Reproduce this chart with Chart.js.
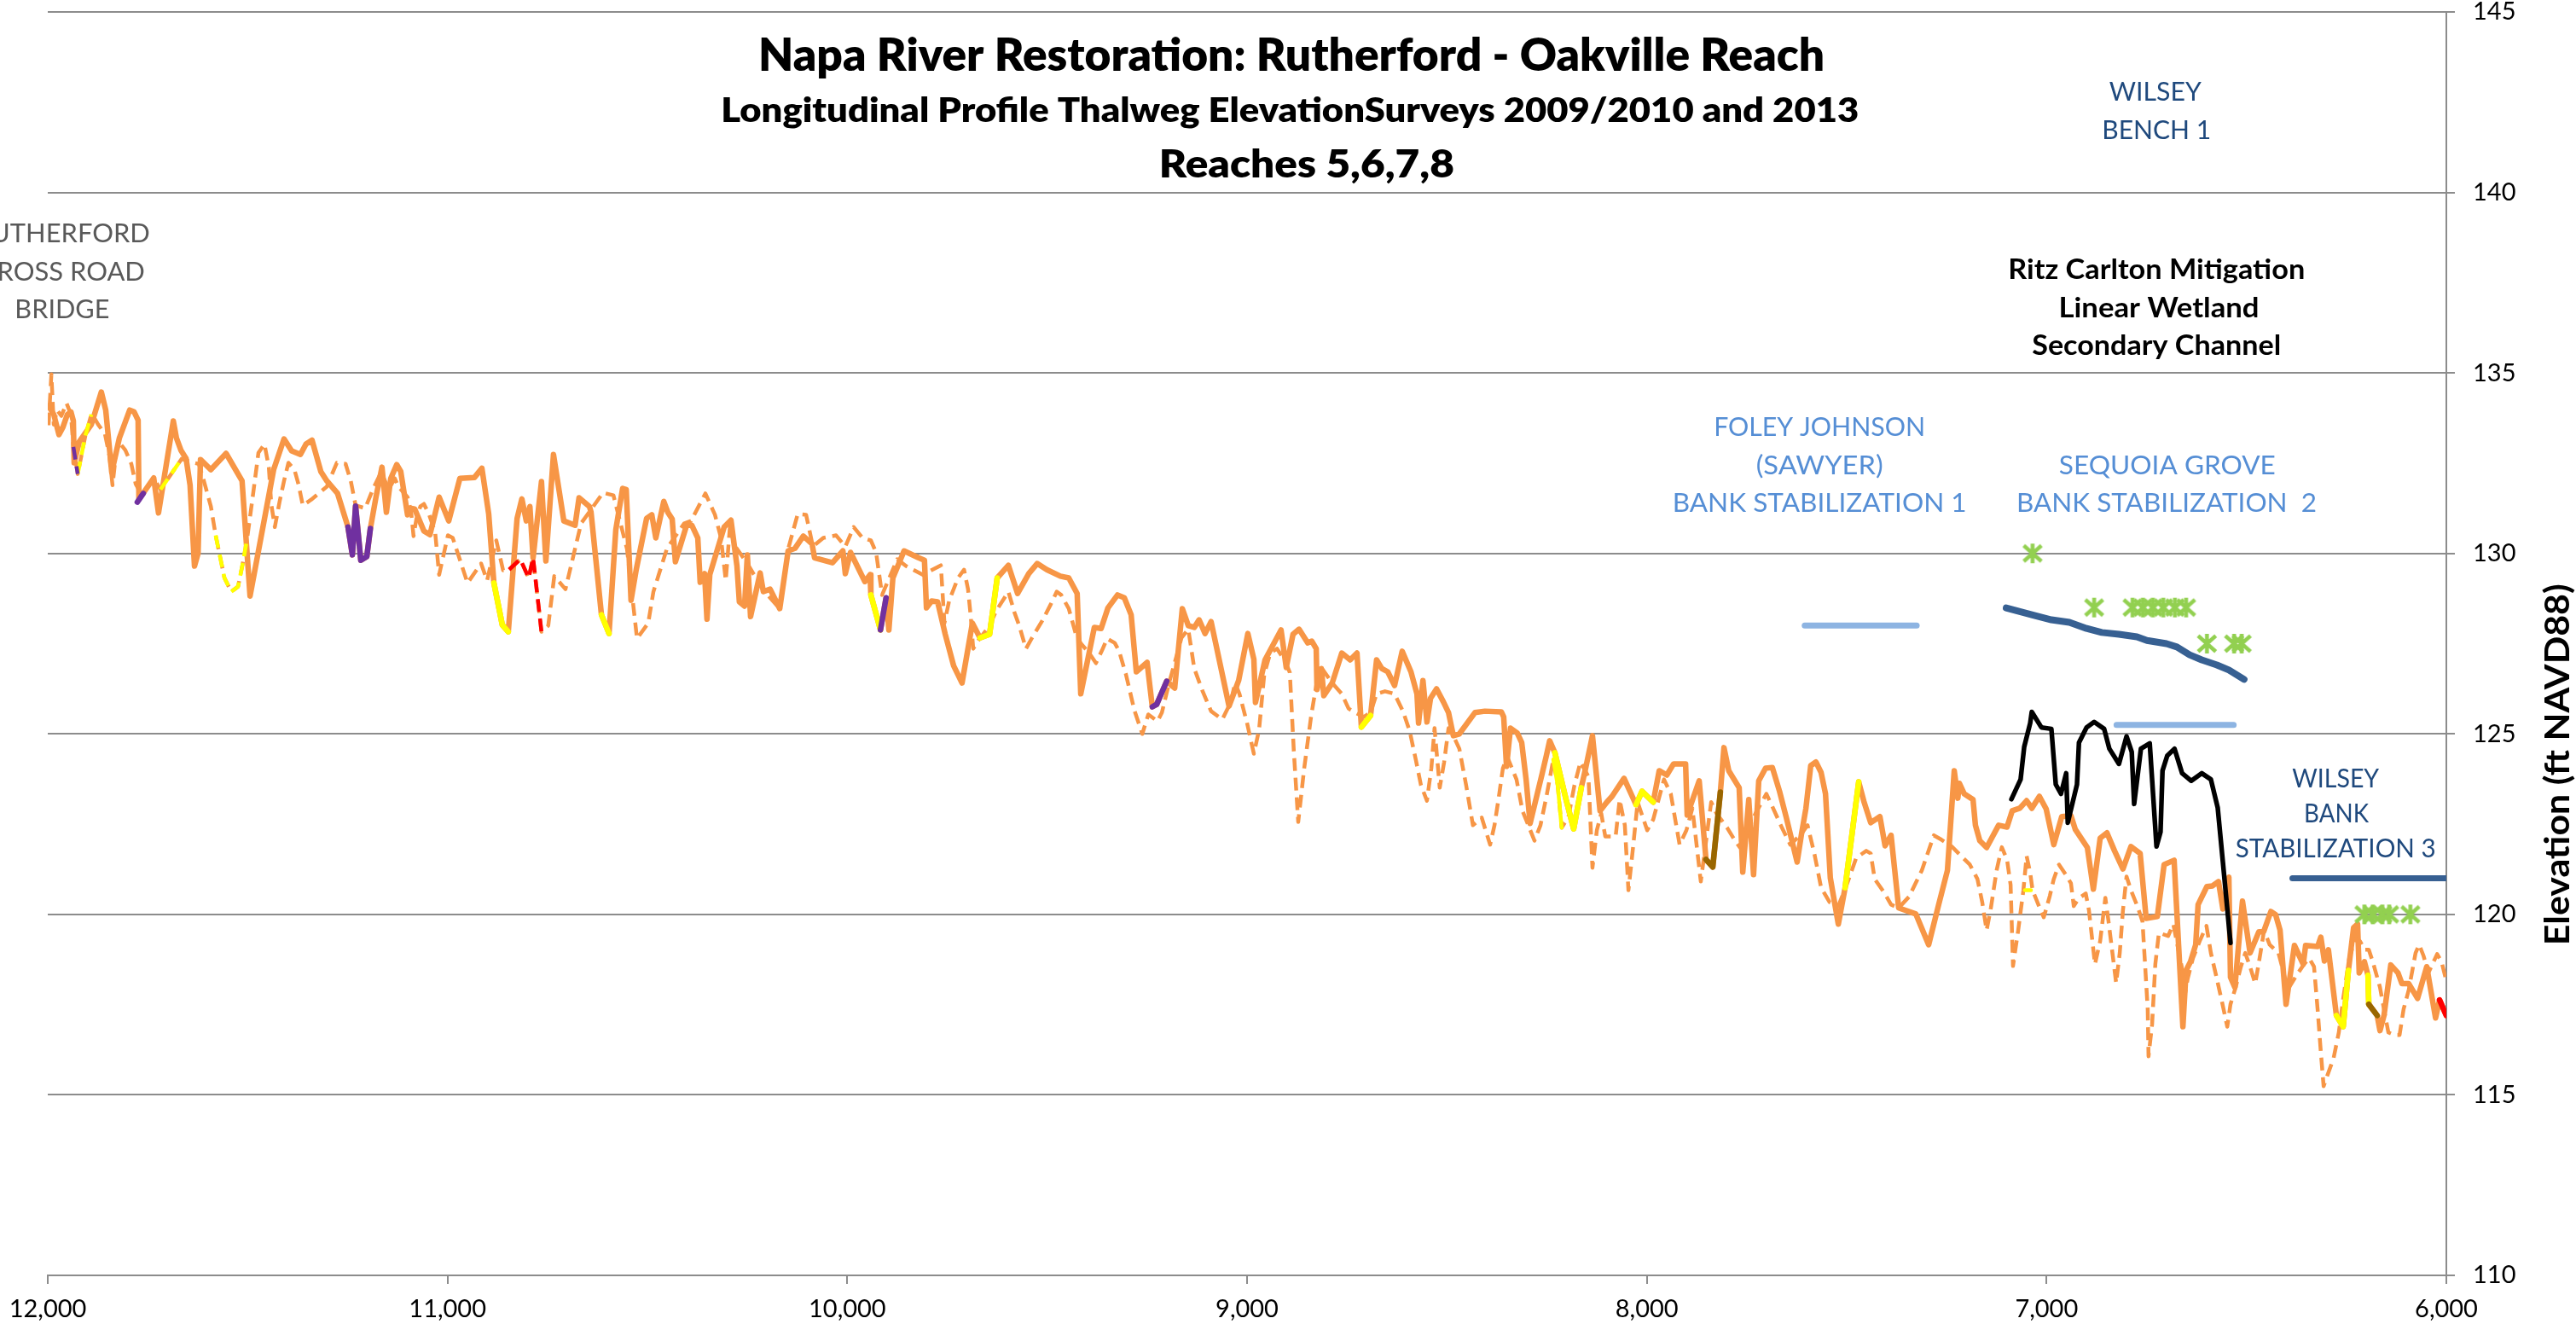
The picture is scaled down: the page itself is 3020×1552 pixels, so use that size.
<!DOCTYPE html>
<html>
<head>
<meta charset="utf-8">
<title>Napa River Restoration: Rutherford - Oakville Reach</title>
<script src="https://cdn.jsdelivr.net/npm/chart.js@4.4.1/dist/chart.umd.min.js"></script>
<style>
  html, body { margin: 0; padding: 0; background: #fff; }
  canvas { display: block; }
</style>
</head>
<body>
<canvas id="profile" width="3020" height="1552"></canvas>
<script>
// station (ft) / thalweg elevation (ft NAVD88) pairs

const survey2013 = [
  [11998,134.09],[11985,133.85],[11972,133.29],[11962,133.50],[11951,133.85],[11942,133.92],[11936,133.67],[11934,132.51],[11921,133.10],[11891,133.57],
  [11866,134.47],[11855,133.97],[11840,132.25],[11821,133.19],[11795,133.97],[11784,133.92],[11774,133.69],[11772,131.50],[11735,132.09],[11723,131.12],
  [11686,133.67],[11678,133.19],[11667,132.86],[11654,132.63],[11644,131.89],[11633,129.65],[11624,130.00],[11618,132.60],[11592,132.32],[11554,132.77],
  [11514,132.01],[11494,128.82],[11435,132.32],[11409,133.17],[11390,132.84],[11368,132.74],[11354,133.03],[11339,133.14],[11317,132.27],[11302,132.01],
  [11275,131.66],[11249,130.73],[11238,129.96],[11230,131.31],[11217,129.81],[11202,129.91],[11193,130.69],[11179,131.56],[11164,132.39],[11153,131.14],
  [11142,132.08],[11127,132.46],[11117,132.27],[11100,131.07],[11091,131.25],[11082,131.23],[11059,130.62],[11044,130.52],[11021,131.56],[10997,130.90],
  [10969,132.08],[10933,132.10],[10914,132.36],[10897,131.09],[10884,129.18],[10863,128.02],[10848,127.83],[10826,130.97],[10814,131.51],[10803,130.90],
  [10794,131.30],[10786,129.88],[10765,131.99],[10754,129.79],[10735,132.74],[10709,130.90],[10681,130.78],[10671,131.54],[10645,131.30],[10641,131.14],
  [10615,128.30],[10596,127.78],[10579,130.66],[10562,131.80],[10553,131.77],[10541,128.70],[10528,129.55],[10502,130.97],[10489,131.07],[10479,130.43],
  [10459,131.44],[10449,131.14],[10438,130.95],[10430,129.77],[10402,130.78],[10389,130.78],[10374,130.43],[10368,129.20],[10357,129.44],[10351,128.18],
  [10344,129.41],[10308,130.73],[10291,130.92],[10276,129.65],[10270,128.66],[10257,128.54],[10250,129.96],[10242,128.25],[10218,129.46],[10210,128.94],
  [10193,129.01],[10169,128.47],[10148,130.07],[10131,130.14],[10110,130.48],[10088,130.26],[10082,129.88],[10037,129.74],[10011,130.07],[10005,129.44],
  [9992,130.03],[9956,129.22],[9943,129.41],[9941,128.85],[9917,127.88],[9903,128.77],[9896,127.88],[9886,129.32],[9858,130.07],[9822,129.88],
  [9807,129.81],[9802,128.49],[9789,128.68],[9774,128.66],[9755,127.76],[9734,126.89],[9713,126.41],[9687,128.07],[9668,127.66],[9644,127.76],
  [9625,129.32],[9597,129.67],[9574,128.89],[9546,129.44],[9525,129.72],[9501,129.55],[9467,129.37],[9446,129.32],[9425,128.89],[9416,126.11],
  [9382,127.95],[9365,127.92],[9348,128.49],[9324,128.85],[9307,128.77],[9290,128.30],[9277,126.72],[9250,126.98],[9237,125.75],[9226,125.82],
  [9201,126.46],[9181,126.27],[9162,128.47],[9147,128.00],[9132,127.95],[9120,128.16],[9105,127.78],[9090,128.11],[9045,125.77],[9021,126.48],
  [8998,127.78],[8983,127.07],[8979,125.87],[8955,127.05],[8915,127.88],[8902,126.84],[8885,127.76],[8870,127.90],[8848,127.52],[8838,127.57],
  [8827,127.36],[8825,126.23],[8814,126.81],[8808,126.06],[8787,126.41],[8763,127.24],[8742,127.05],[8725,127.24],[8714,125.19],[8691,125.51],
  [8676,127.05],[8663,126.81],[8648,126.72],[8631,126.34],[8612,127.29],[8590,126.72],[8575,126.11],[8571,125.30],[8560,126.48],[8550,125.33],
  [8541,125.99],[8526,126.25],[8509,125.89],[8496,125.59],[8484,124.95],[8469,125.00],[8430,125.59],[8405,125.63],[8364,125.61],[8358,125.47],
  [8351,124.10],[8341,125.16],[8324,125.02],[8313,124.76],[8302,123.74],[8292,122.52],[8262,123.89],[8251,124.41],[8243,124.81],[8230,124.48],
  [8202,123.18],[8183,122.37],[8164,123.51],[8153,124.05],[8136,124.95],[8117,122.87],[8100,123.11],[8087,123.27],[8057,123.77],[8027,123.04],
  [8012,123.41],[7984,123.11],[7969,123.98],[7950,123.86],[7933,124.17],[7903,124.17],[7899,122.75],[7869,123.70],[7852,121.52],[7835,121.31],
  [7816,123.39],[7807,124.62],[7795,123.98],[7769,123.51],[7760,121.17],[7745,123.18],[7733,121.10],[7720,123.70],[7703,124.05],[7686,124.07],
  [7668,123.41],[7651,122.68],[7624,121.45],[7613,122.23],[7602,122.94],[7590,124.12],[7577,124.22],[7564,123.93],[7553,123.34],[7541,121.01],
  [7521,119.73],[7504,120.74],[7470,123.67],[7457,123.13],[7440,122.54],[7417,122.71],[7404,121.90],[7389,122.19],[7370,120.18],[7327,120.01],
  [7295,119.16],[7270,120.27],[7248,121.22],[7231,123.98],[7222,123.22],[7218,123.63],[7206,123.34],[7184,123.18],[7178,122.47],[7167,122.04],
  [7150,121.85],[7120,122.47],[7099,122.42],[7086,122.87],[7067,122.94],[7050,123.15],[7037,122.94],[7018,123.27],[7001,122.92],[6982,121.93],
  [6962,122.71],[6939,122.73],[6928,122.35],[6898,121.85],[6883,120.70],[6866,122.11],[6849,122.26],[6830,121.76],[6809,121.26],[6789,121.88],
  [6766,121.69],[6751,119.89],[6723,119.94],[6706,121.38],[6681,121.50],[6659,116.89],[6651,118.45],[6640,118.69],[6627,119.16],[6621,120.27],
  [6599,120.77],[6585,120.79],[6570,120.91],[6559,120.15],[6544,121.03],[6540,118.26],[6529,117.98],[6510,120.37],[6491,118.93],[6469,119.52],
  [6457,119.52],[6439,120.08],[6427,119.99],[6416,119.56],[6401,117.51],[6380,119.14],[6358,118.62],[6352,119.14],[6322,119.11],[6314,119.37],
  [6305,118.71],[6295,119.02],[6275,117.20],[6258,116.89],[6245,118.45],[6232,119.63],[6222,119.73],[6218,118.38],[6205,118.69],[6196,118.31],
  [6194,117.51],[6173,117.20],[6166,116.78],[6156,117.20],[6139,118.60],[6121,118.38],[6111,118.08],[6094,118.08],[6072,117.67],[6049,118.55],
  [6027,117.13],[6017,117.63],[6000,117.20]
];

const survey2009 = [
  [11998,133.55],[11991,134.96],[11985,133.57],[11977,133.97],[11966,133.81],[11953,134.16],[11942,133.85],[11936,132.95],[11925,132.20],[11906,133.26],
  [11891,133.85],[11885,133.78],[11874,133.57],[11857,133.31],[11846,132.72],[11838,131.89],[11829,132.79],[11821,133.07],[11806,132.86],[11791,132.48],
  [11780,131.92],[11767,131.66],[11753,131.80],[11735,132.08],[11718,131.77],[11665,132.62],[11635,132.51],[11622,132.48],[11610,132.03],[11592,131.30],
  [11580,130.50],[11558,129.32],[11541,128.94],[11524,129.08],[11511,129.79],[11501,130.43],[11486,131.68],[11473,132.79],[11458,133.03],[11447,132.39],
  [11441,131.37],[11432,130.73],[11420,131.44],[11409,132.01],[11398,132.51],[11383,132.32],[11373,131.92],[11362,131.33],[11341,131.49],[11302,131.85],
  [11277,132.51],[11255,132.48],[11242,132.01],[11230,131.33],[11206,131.25],[11187,131.77],[11166,132.25],[11147,131.77],[11132,132.08],[11123,131.85],
  [11100,131.56],[11091,131.14],[11085,130.48],[11078,130.95],[11068,131.30],[11059,131.37],[11046,131.07],[11031,130.59],[11021,129.41],[10999,130.50],
  [10987,130.43],[10950,129.18],[10916,129.72],[10901,129.25],[10878,130.36],[10861,129.53],[10846,129.55],[10818,129.84],[10797,129.32],[10786,129.88],
  [10765,127.83],[10748,128.00],[10733,129.37],[10705,129.01],[10666,130.83],[10611,131.68],[10585,131.61],[10551,130.12],[10526,127.64],[10498,128.07],
  [10485,128.94],[10451,130.14],[10408,130.83],[10391,130.90],[10355,131.66],[10331,131.07],[10316,130.43],[10304,129.25],[10293,130.83],[10280,130.19],
  [10250,129.72],[10212,129.01],[10169,128.47],[10148,130.12],[10124,131.09],[10103,131.07],[10086,130.19],[10060,130.43],[10028,130.50],[10005,130.19],
  [9984,130.73],[9962,130.43],[9941,130.36],[9928,130.03],[9913,128.85],[9875,129.84],[9853,129.65],[9811,129.41],[9766,129.67],[9757,128.07],
  [9745,128.70],[9723,129.32],[9708,129.55],[9698,129.01],[9691,128.23],[9685,127.36],[9672,127.59],[9644,128.00],[9627,128.42],[9597,128.94],
  [9582,128.37],[9570,128.00],[9553,127.36],[9538,127.66],[9512,128.14],[9491,128.59],[9476,128.94],[9465,128.85],[9446,128.47],[9427,127.71],
  [9414,127.48],[9395,127.24],[9378,126.96],[9363,127.31],[9350,127.64],[9331,127.52],[9320,127.29],[9303,126.65],[9282,125.66],[9262,125.00],
  [9247,125.54],[9224,125.35],[9213,125.59],[9196,126.37],[9164,127.66],[9147,127.90],[9132,126.81],[9111,126.18],[9090,125.63],[9062,125.40],
  [9041,125.87],[9030,126.41],[9019,126.11],[9000,125.30],[8983,124.45],[8970,125.11],[8957,126.65],[8942,127.24],[8925,127.36],[8904,127.00],
  [8893,126.70],[8883,124.52],[8872,122.56],[8857,124.05],[8840,125.47],[8827,126.34],[8810,126.77],[8787,126.41],[8763,126.11],[8746,125.70],
  [8729,125.59],[8708,125.47],[8691,125.59],[8676,126.11],[8655,126.18],[8631,126.11],[8610,125.63],[8593,125.07],[8578,124.29],[8565,123.58],
  [8550,123.15],[8539,124.05],[8531,125.16],[8518,123.51],[8507,124.22],[8496,125.16],[8484,124.95],[8469,124.59],[8452,123.58],[8435,122.47],
  [8413,122.68],[8392,121.93],[8381,122.47],[8370,123.27],[8360,124.05],[8349,124.36],[8326,123.74],[8311,122.87],[8294,122.40],[8281,122.04],
  [8266,122.47],[8251,123.27],[8234,124.29],[8223,123.58],[8213,122.40],[8196,122.71],[8181,123.58],[8166,124.22],[8146,123.82],[8136,121.29],
  [8125,122.33],[8114,122.80],[8104,122.16],[8078,122.16],[8068,123.18],[8055,122.47],[8046,120.67],[8036,121.69],[8023,123.11],[7999,122.33],
  [7984,122.63],[7957,123.74],[7940,123.34],[7918,121.93],[7901,122.33],[7886,122.94],[7865,120.91],[7839,123.11],[7826,122.80],[7799,122.40],
  [7782,122.09],[7767,121.85],[7728,122.80],[7701,123.34],[7684,122.94],[7662,122.40],[7641,121.93],[7613,122.23],[7598,122.47],[7581,121.69],
  [7564,120.74],[7543,120.34],[7521,120.23],[7500,120.82],[7476,121.57],[7451,121.76],[7440,121.69],[7430,120.98],[7406,120.60],[7389,120.27],
  [7370,120.18],[7344,120.49],[7312,121.22],[7282,122.19],[7263,122.07],[7237,121.88],[7214,121.62],[7192,121.38],[7173,120.98],[7161,120.34],
  [7150,119.56],[7139,120.20],[7125,121.22],[7112,121.86],[7099,121.52],[7090,120.82],[7084,118.57],[7071,119.56],[7058,120.67],[7050,121.62],
  [7041,121.15],[7035,120.67],[7018,120.20],[7007,119.92],[6992,120.51],[6982,120.98],[6969,121.38],[6952,121.10],[6939,120.86],[6932,120.23],
  [6920,120.44],[6902,120.58],[6894,120.11],[6879,118.62],[6866,119.26],[6853,120.46],[6845,119.80],[6826,118.10],[6817,118.93],[6809,120.11],
  [6800,121.05],[6789,120.67],[6772,120.20],[6760,119.80],[6747,117.37],[6745,116.07],[6736,116.96],[6728,118.62],[6719,119.49],[6696,119.40],
  [6683,119.73],[6662,118.55],[6653,117.84],[6647,118.22],[6634,118.78],[6617,119.26],[6600,119.68],[6589,118.93],[6576,118.31],[6563,117.67],
  [6548,116.89],[6540,117.51],[6527,117.98],[6514,118.55],[6503,118.93],[6491,118.55],[6478,118.08],[6465,118.93],[6456,119.56],[6442,119.16],
  [6420,118.93],[6407,118.38],[6397,117.91],[6375,118.31],[6356,118.62],[6343,118.78],[6331,118.55],[6322,117.37],[6314,116.19],[6307,115.24],
  [6295,115.62],[6282,116.02],[6269,116.73],[6258,117.67],[6243,118.78],[6228,119.33],[6216,119.26],[6205,119.02],[6194,119.02],[6184,118.69],
  [6166,117.98],[6156,117.37],[6145,116.73],[6130,116.66],[6117,116.66],[6107,117.37],[6094,117.91],[6077,118.93],[6068,119.16],[6057,118.85],
  [6045,118.38],[6023,118.90],[6012,118.69],[6000,118.15]
];

// highlighted stretches of the two surveys
const yellowRuns = [
  [[10884,129.18],[10863,128.02],[10848,127.83]],
  [[10615,128.30],[10596,127.78]],
  [[9941,128.85],[9917,127.88]],
  [[9668,127.66],[9644,127.76],[9625,129.32]],
  [[8714,125.19],[8691,125.51]],
  [[8230,124.48],[8202,123.18],[8183,122.37],[8164,123.51]],
  [[8027,123.04],[8012,123.41],[7984,123.11]],
  [[7504,120.74],[7470,123.67]],
  [[6275,117.20],[6258,116.89],[6245,118.45]],
  [[6196,118.31],[6194,117.51]]
];
const yellowRuns2009 = [
  [[11925,132.20],[11906,133.26],[11891,133.85]],
  [[11718,131.77],[11665,132.62]],
  [[11580,130.50],[11558,129.32],[11541,128.94],[11524,129.08],[11511,129.79],[11501,130.43]]
];
const yellowThin = [
  [[8234,124.29],[8223,123.58],[8213,122.40]],
  [[7054,120.67],[7039,120.67]]
];
const purpleRuns = [
  [[11776,131.42],[11761,131.66]],
  [[11249,130.73],[11238,129.96],[11230,131.31],[11217,129.81],[11202,129.91],[11193,130.69]],
  [[9917,127.88],[9903,128.77]],
  [[9237,125.75],[9226,125.82],[9201,126.46]]
];
const purpleRuns2009 = [
  [[11936,132.95],[11925,132.20]]
];
const redRuns2009 = [
  [[10846,129.55],[10818,129.84],[10797,129.32],[10786,129.88],[10765,127.83]]
];
const redRuns = [
  [[6017,117.63],[6000,117.20]]
];
const brownRuns = [
  [[7852,121.52],[7835,121.31],[7816,123.39]],
  [[6194,117.51],[6173,117.20]]
];

const ritzChannel = [
  [7088,123.19],[7065,123.74],[7056,124.64],[7041,125.30],[7037,125.61],[7013,125.18],[6988,125.14],[6977,123.60],[6964,123.34],[6951,123.91],
  [6947,122.54],[6924,123.60],[6919,124.76],[6900,125.18],[6881,125.33],[6856,125.14],[6843,124.59],[6819,124.17],[6800,124.93],[6787,124.50],
  [6781,123.06],[6764,124.59],[6742,124.74],[6725,121.88],[6715,122.28],[6710,123.98],[6698,124.40],[6680,124.59],[6661,123.91],[6638,123.70],
  [6612,123.91],[6589,123.74],[6572,122.96],[6559,121.45],[6540,119.21]
];

const wilseyBench = [
  [7101,128.49],[7037,128.30],[6988,128.16],[6943,128.09],[6900,127.92],[6862,127.81],[6819,127.76],[6774,127.69],[6749,127.59],[6700,127.50],
  [6674,127.41],[6642,127.19],[6612,127.05],[6574,126.91],[6544,126.77],[6506,126.51]
];

const foleyJohnson = [[7605,128.0],[7325,128.0]];
const sequoiaGrove = [[6825,125.25],[6532,125.25]];
const wilseyBank3 = [[6385,121.0],[6000,121.0]];

const plantings = [
  [7035,130.0],
  [6881,128.5],[6785,128.5],[6759,128.5],[6734,128.5],[6708,128.5],[6679,128.5],[6651,128.5],
  [6599,127.5],[6531,127.5],[6512,127.5],
  [6205,120.0],[6184,120.0],[6160,120.0],[6143,120.0],[6090,120.0]
];

const stationTicks = { min: 6000, max: 12000, step: 1000 };
const elevationTicks = { min: 110, max: 145, step: 5 };

// text placed on the plot (x = station, y = baseline elevation)
const notes = [
  { text: 'Napa River Restoration: Rutherford - Oakville Reach', x: 8889, y: 143.37, size: 53, weight: 800, color: '#000', width: 1250 },
  { text: 'Longitudinal Profile Thalweg ElevationSurveys 2009/2010 and 2013', x: 8893, y: 141.95, size: 40, weight: 800, color: '#000', width: 1334 },
  { text: 'Reaches 5,6,7,8', x: 8851, y: 140.42, size: 45, weight: 800, color: '#000', width: 346 },
  { text: 'RUTHERFORD', x: 11964, y: 138.62, size: 30, color: '#595959', width: 206 },
  { text: 'CROSS ROAD', x: 11964, y: 137.56, size: 30, color: '#595959', width: 194 },
  { text: 'BRIDGE', x: 11964, y: 136.52, size: 30, color: '#595959', width: 111 },
  { text: 'WILSEY', x: 6728, y: 142.54, size: 30, color: '#1F497D', width: 108 },
  { text: 'BENCH 1', x: 6725, y: 141.48, size: 30, color: '#1F497D', width: 128 },
  { text: 'Ritz Carlton Mitigation', x: 6725, y: 137.61, size: 33, weight: 700, color: '#000', width: 348 },
  { text: 'Linear Wetland', x: 6719, y: 136.55, size: 33, weight: 700, color: '#000', width: 235 },
  { text: 'Secondary Channel', x: 6725, y: 135.50, size: 33, weight: 700, color: '#000', width: 292 },
  { text: 'FOLEY JOHNSON', x: 7568, y: 133.26, size: 31, color: '#558ED5', width: 248 },
  { text: '(SAWYER)', x: 7568, y: 132.20, size: 31, color: '#558ED5', width: 149 },
  { text: 'BANK STABILIZATION 1', x: 7568, y: 131.16, size: 31, color: '#558ED5', width: 345 },
  { text: 'SEQUOIA GROVE', x: 6698, y: 132.20, size: 31, color: '#558ED5', width: 254 },
  { text: 'BANK STABILIZATION  2', x: 6700, y: 131.16, size: 31, color: '#558ED5', width: 352 },
  { text: 'WILSEY', x: 6277, y: 123.51, size: 30, color: '#1F497D', width: 102 },
  { text: 'BANK', x: 6275, y: 122.56, size: 30, color: '#1F497D', width: 76 },
  { text: 'STABILIZATION 3', x: 6277, y: 121.57, size: 30, color: '#1F497D', width: 235 }
];
const axisTitle = { text: 'Elevation (ft NAVD88)', y: 124.15, size: 40, width: 424 };

const ORANGE = '#F79646';
const GRID = '#8C8C8C';
const FONT = 'Lato, "Open Sans", sans-serif';

const toPoints = (pairs) => pairs.map(([x, y]) => ({ x, y }));
// join separate runs into one series, with a gap between runs
const joinRuns = (runs) => runs.flatMap((run, i) =>
  (i ? [{ x: run[0][0], y: null }] : []).concat(toPoints(run)));

// Excel-like asterisk marker (X plus vertical bar)
function asterisk(size, color) {
  const c = document.createElement('canvas');
  c.width = c.height = size;
  const g = c.getContext('2d');
  const m = size / 2, r = size / 2 - 2;
  g.strokeStyle = color;
  g.lineWidth = 4.5;
  g.beginPath();
  g.moveTo(m - r * 0.9, m - r * 0.8); g.lineTo(m + r * 0.9, m + r * 0.8);
  g.moveTo(m + r * 0.9, m - r * 0.8); g.lineTo(m - r * 0.9, m + r * 0.8);
  g.moveTo(m, m - r); g.lineTo(m, m + r);
  g.stroke();
  return c;
}

const line = (label, data, color, width, extra = {}) => Object.assign({
  label, data, borderColor: color, backgroundColor: color, borderWidth: width,
  pointRadius: 0, pointHoverRadius: 0, tension: 0, spanGaps: false,
  borderJoinStyle: 'round', borderCapStyle: 'round', fill: false
}, extra);

const DASH = { borderDash: [15, 8], borderCapStyle: 'butt' };

// first dataset is painted last (on top)
const datasets = [
  {
    label: 'Plantings', data: toPoints(plantings), showLine: false,
    pointStyle: asterisk(27, '#92D050'), pointRadius: 13, pointHoverRadius: 13,
    borderColor: '#92D050', backgroundColor: '#92D050'
  },
  line('Wilsey Bench 1', toPoints(wilseyBench), '#376092', 8),
  line('Wilsey Bank Stabilization 3', toPoints(wilseyBank3), '#376092', 7),
  line('Foley Johnson', toPoints(foleyJohnson), '#8DB4E2', 7),
  line('Sequoia Grove', toPoints(sequoiaGrove), '#8DB4E2', 7),
  line('Ritz Carlton Secondary Channel', toPoints(ritzChannel), '#000000', 5.5),
  line('2013 red', joinRuns(redRuns), '#FF0000', 6.5),
  line('2013 brown', joinRuns(brownRuns), '#996600', 6.5),
  line('2013 purple', joinRuns(purpleRuns), '#7030A0', 6.5),
  line('2013 yellow', joinRuns(yellowRuns), '#FFFF00', 6.5),
  line('2009/2010 yellow thin', joinRuns(yellowThin), '#FFFF00', 4.5),
  line('2009/2010 red', joinRuns(redRuns2009), '#FF0000', 4.5, DASH),
  line('2009/2010 purple', joinRuns(purpleRuns2009), '#7030A0', 4.5, DASH),
  line('2009/2010 yellow', joinRuns(yellowRuns2009), '#FFFF00', 4.5, DASH),
  line('2009/2010 survey', toPoints(survey2009), ORANGE, 4.5, DASH),
  line('2013 survey', toPoints(survey2013), ORANGE, 6.5)
];

function fitText(ctx, text, width) {
  const sx = width ? width / ctx.measureText(text).width : 1;
  ctx.scale(sx, 1);
  ctx.fillText(text, 0, 0);
}

const textLayer = {
  id: 'textLayer',
  afterDatasetsDraw(chart) {
    const { ctx, chartArea, scales: { x, y } } = chart;
    ctx.save();
    ctx.textAlign = 'center';
    ctx.textBaseline = 'alphabetic';
    for (const n of notes) {
      ctx.font = (n.weight || 400) + ' ' + n.size + 'px ' + FONT;
      ctx.fillStyle = n.color;
      ctx.save();
      ctx.translate(x.getPixelForValue(n.x), y.getPixelForValue(n.y));
      fitText(ctx, n.text, n.width);
      ctx.restore();
    }
    // vertical axis title, reading bottom to top
    ctx.font = 'bold ' + axisTitle.size + 'px ' + FONT;
    ctx.fillStyle = '#000';
    ctx.textBaseline = 'middle';
    ctx.translate(chartArea.right + 131, y.getPixelForValue(axisTitle.y));
    ctx.rotate(-Math.PI / 2);
    fitText(ctx, axisTitle.text, axisTitle.width);
    ctx.restore();
  }
};

Chart.defaults.font.family = FONT;
Chart.defaults.color = '#000';

new Chart(document.getElementById('profile'), {
  type: 'line',
  data: { datasets },
  plugins: [textLayer],
  options: {
    responsive: false,
    devicePixelRatio: 1,
    animation: false,
    events: [],
    layout: { padding: { left: 56, top: 13, right: 0, bottom: 0 } },
    plugins: { legend: { display: false }, tooltip: { enabled: false }, title: { display: false } },
    scales: {
      x: {
        type: 'linear',
        reverse: true,
        min: stationTicks.min,
        max: stationTicks.max,
        ticks: { stepSize: stationTicks.step, font: { size: 29 }, color: '#000', padding: 12, maxRotation: 0 },
        grid: { drawOnChartArea: false, drawTicks: true, tickLength: 10, color: GRID, lineWidth: 2 },
        border: { display: true, color: GRID, width: 2 },
        afterFit(scale) { scale.height = 57; scale.paddingLeft = 0; scale.paddingRight = 0; }
      },
      y: {
        position: 'right',
        min: elevationTicks.min,
        max: elevationTicks.max,
        ticks: { stepSize: elevationTicks.step, font: { size: 29 }, color: '#000', padding: 21 },
        grid: { color: GRID, lineWidth: 2, tickLength: 10, drawTicks: true },
        border: { display: true, color: GRID, width: 2 },
        afterFit(scale) { scale.width = 152; scale.paddingTop = 0; scale.paddingBottom = 0; }
      }
    }
  }
});
</script>
</body>
</html>
